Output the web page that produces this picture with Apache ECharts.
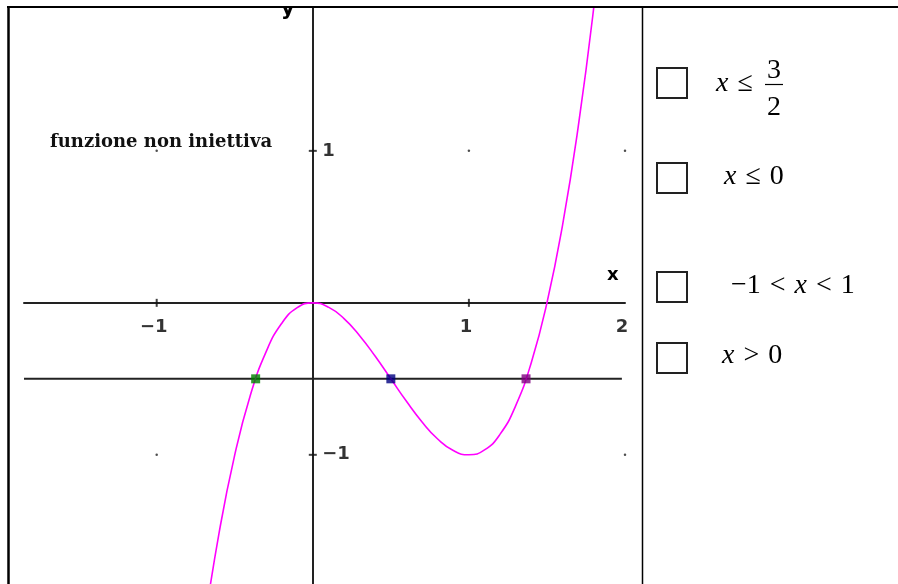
<!DOCTYPE html>
<html>
<head>
<meta charset="utf-8">
<script src="https://cdn.jsdelivr.net/npm/echarts@6/dist/echarts.min.js"></script>
<style>
  html, body { margin: 0; padding: 0; background: #fff; }
  #main { width: 898px; height: 584px; }
</style>
</head>
<body>
<div id="main"></div>
<script>
// curve (x, y)
var curveX = [-0.7, -0.6, -0.5, -0.4, -0.3, -0.2, -0.1, 0, 0.1, 0.2, 0.3, 0.4, 0.5, 0.6, 0.7, 0.8, 0.9, 1.0, 1.1, 1.2, 1.3, 1.4, 1.5, 1.6, 1.7, 1.8, 1.9];
var curveY = [-2.156, -1.512, -1.0, -0.608, -0.324, -0.136, -0.032, 0, -0.028, -0.104, -0.216, -0.352, -0.5, -0.648, -0.784, -0.896, -0.972, -1.0, -0.968, -0.864, -0.676, -0.392, 0, 0.512, 1.156, 1.944, 2.888];

// horizontal line y = -0.5 and its three intersections
var levelY = -0.5;
var levelX = [-1.85, 1.98];
var hitX = [-0.366, 0.5, 1.366];
var hitColors = ['#008000', '#000080', '#800080'];

// lattice dots
var dotPts = [[-1, 1], [1, 1], [2, 1], [-1, -1], [2, -1]];

// ticks and labels
var xTicks = [-1, 1];
var yTicks = [-1, 1];
var xLabels = [-1, 1, 2];
var yLabels = [-1, 1];

var title = 'funzione non iniettiva';

var chart = echarts.init(document.getElementById('main'));

var curveData = curveX.map(function (x, i) { return [x, curveY[i]]; });
var hitData = hitX.map(function (x, i) {
  return { value: [x, levelY], itemStyle: { color: hitColors[i] } };
});
var fmt = function (p) { return String(p.value[0] || p.value[1]).replace('-', '\u2212'); };
var tickFont = { color: '#000', fontFamily: 'DejaVu Sans', fontWeight: 'bold', fontSize: 18 };

var serif = 'Liberation Serif';
var rich = {
  i: { fontFamily: serif, fontStyle: 'italic', fontSize: 28, color: '#000' },
  n: { fontFamily: serif, fontSize: 28, color: '#000' },
  r: { fontFamily: serif, fontSize: 28, color: '#000', padding: [0, 9, 0, 9] }
};
function mathText(left, midY, text) {
  return { type: 'text', left: left, top: midY - 17, z: 10,
    style: { text: text, rich: rich } };
}
function box(top) {
  return { type: 'rect', shape: { x: 657, y: top, width: 30, height: 30 }, z: 10,
    style: { fill: 'none', stroke: '#222', lineWidth: 2 } };
}

var option = {
  animation: false,
  backgroundColor: '#fff',
  grid: { left: 24, right: 273, top: 8, bottom: 0, containLabel: false, outerBoundsMode: 'none' },
  xAxis: {
    type: 'value', min: -1.85, max: 2,
    splitLine: { show: false },
    axisTick: { show: false },
    axisLabel: { show: false },
    axisLine: { onZero: true, lineStyle: { color: '#222', width: 2 } }
  },
  yAxis: {
    type: 'value', min: -1.85, max: 1.94,
    splitLine: { show: false },
    axisTick: { show: false },
    axisLabel: { show: false },
    axisLine: { onZero: true, lineStyle: { color: '#222', width: 2 } }
  },
  series: [
    {
      type: 'line', data: levelX.map(function (x) { return [x, levelY]; }),
      symbol: 'none', lineStyle: { color: '#222', width: 2 }, z: 1
    },
    {
      type: 'scatter', symbol: 'rect', symbolSize: [2, 8],
      data: xTicks.map(function (x) { return [x, 0]; }), itemStyle: { color: '#111' }, z: 1
    },
    {
      type: 'scatter', symbol: 'rect', symbolSize: [8, 2],
      data: yTicks.map(function (y) { return [0, y]; }), itemStyle: { color: '#111' }, z: 1
    },
    {
      type: 'scatter', symbol: 'circle', symbolSize: 2.5,
      data: dotPts, itemStyle: { color: '#222' }, z: 1
    },
    {
      type: 'scatter', symbolSize: 1, itemStyle: { color: 'transparent' }, z: 5,
      data: xLabels.map(function (x) { return [x, 0]; }),
      label: Object.assign({ show: true, position: 'inside', offset: [-3, 24], formatter: fmt }, tickFont)
    },
    {
      type: 'scatter', symbolSize: 1, itemStyle: { color: 'transparent' }, z: 5,
      data: yLabels.map(function (y) { return [0, y]; }),
      label: Object.assign({ show: true, position: 'right', distance: 9, formatter: fmt }, tickFont)
    },
    {
      type: 'line', data: curveData, smooth: true, symbol: 'none', clip: true,
      lineStyle: { color: '#ff00ff', width: 1.6 }, z: 3
    },
    {
      type: 'scatter', symbol: 'rect', symbolSize: 9, data: hitData, z: 4
    }
  ],
  graphic: [
    { type: 'text', left: 50, top: 133, z: 10,
      style: { text: title, fontFamily: 'DejaVu Serif', fontWeight: 'bold', fontSize: 18, fill: '#111' } },
    { type: 'text', left: 607, top: 266, z: 10,
      style: { text: 'x', fontFamily: 'DejaVu Sans', fontWeight: 'bold', fontSize: 18, fill: '#000' } },
    { type: 'text', left: 281, top: -1, z: 10,
      style: { text: 'y', fontFamily: 'DejaVu Sans', fontWeight: 'bold', fontSize: 21, fill: '#000' } },
    { type: 'rect', shape: { x: 0, y: 0, width: 898, height: 6 }, z: 50, style: { fill: '#fff' } },
    { type: 'line', shape: { x1: 7, y1: 7, x2: 898, y2: 7 }, z: 51, style: { stroke: '#000', lineWidth: 2 } },
    { type: 'line', shape: { x1: 8.5, y1: 6, x2: 8.5, y2: 584 }, z: 51, style: { stroke: '#000', lineWidth: 2.5 } },
    { type: 'line', shape: { x1: 642.5, y1: 6, x2: 642.5, y2: 584 }, z: 51, style: { stroke: '#000', lineWidth: 1.5 } },
    box(68), box(163), box(272), box(343),
    mathText(716, 87, '{i|x}{r|≤}'),
    { type: 'text', left: 767, top: 57, z: 10, style: { text: '3', fontFamily: serif, fontSize: 28, fill: '#000' } },
    { type: 'line', shape: { x1: 765, y1: 84.5, x2: 783, y2: 84.5 }, z: 10, style: { stroke: '#000', lineWidth: 1.2 } },
    { type: 'text', left: 767, top: 94, z: 10, style: { text: '2', fontFamily: serif, fontSize: 28, fill: '#000' } },
    mathText(724, 180, '{i|x}{r|≤}{n|0}'),
    mathText(731, 289, '{n|\u22121}{r|<}{i|x}{r|<}{n|1}'),
    mathText(722, 359, '{i|x}{r|>}{n|0}')
  ]
};

chart.setOption(option);
</script>
</body>
</html>
